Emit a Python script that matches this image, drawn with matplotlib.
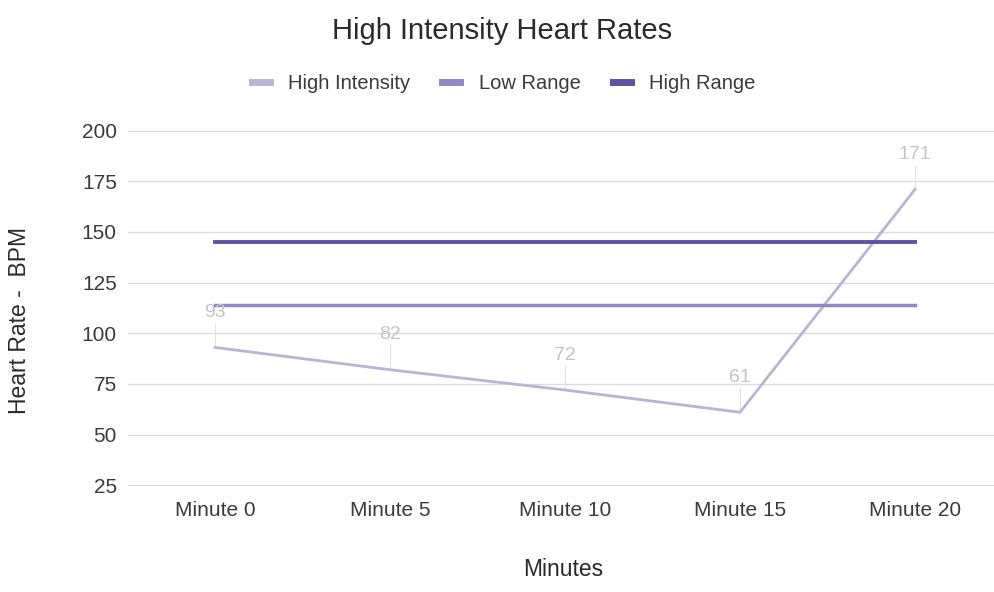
import matplotlib
matplotlib.use('Agg')
import matplotlib.pyplot as plt

minutes = ['Minute 0', 'Minute 5', 'Minute 10', 'Minute 15', 'Minute 20']
high_intensity = [93, 82, 72, 61, 171]
low_range = [114, 114, 114, 114, 114]
high_range = [145, 145, 145, 145, 145]

plt.rcParams['font.family'] = ['Liberation Sans', 'DejaVu Sans']

fig = plt.figure(figsize=(9.95, 5.92), dpi=100)
ax = fig.add_axes([0.1286, 0.179, 0.8714, 0.601])

x = list(range(len(minutes)))
ax.plot(x, high_intensity, color='#b8b4d8', lw=2, label='High Intensity', zorder=3)
ax.plot(x, low_range, color='#8f88c4', lw=2.5, label='Low Range', zorder=3)
ax.plot(x, high_range, color='#5e52a2', lw=2.8, label='High Range', zorder=3)

# data labels with faint leader lines
for xi, v in zip(x, high_intensity):
    ax.plot([xi, xi], [v + 1, v + 12], color='#e2e2e6', lw=0.8, zorder=2)
    ax.text(xi, v + 13, str(v), ha='center', va='bottom', fontsize=14,
            color='#c3c3cc', zorder=4)

ax.set_ylim(24.6, 200.2)
ax.set_yticks([25, 50, 75, 100, 125, 150, 175, 200])
ax.set_xlim(-0.497, 4.457)
ax.set_xticks(x)
ax.set_xticklabels(minutes)
ax.grid(axis='y', color='#dcdcdc', lw=1)
ax.set_axisbelow(True)
for s in ax.spines.values():
    s.set_visible(False)
ax.tick_params(length=0, labelsize=15, colors='#3a3a3a')
ax.tick_params(axis='y', pad=8)
ax.tick_params(axis='x', pad=11)

fig.text(0.020, 0.459, 'Heart Rate -  BPM', rotation=90, ha='center', va='center',
         fontsize=16.5, color='#2a2a2a')
fig.text(0.566, 0.019, 'Minutes', ha='center', va='bottom', fontsize=16.5, color='#2a2a2a')
fig.text(0.505, 0.947, 'High Intensity Heart Rates', ha='center', va='center',
         fontsize=21, color='#2a2a2a')

fig.legend(loc='center', bbox_to_anchor=(0.506, 0.859), ncol=3, frameon=False,
           fontsize=14.5, handlelength=0.9, handletextpad=0.9, columnspacing=1.6,
           labelcolor='#3a3a3a')
for h in fig.legends[0].get_lines():
    h.set_linewidth(5)

fig.savefig('out.png', dpi=100)
